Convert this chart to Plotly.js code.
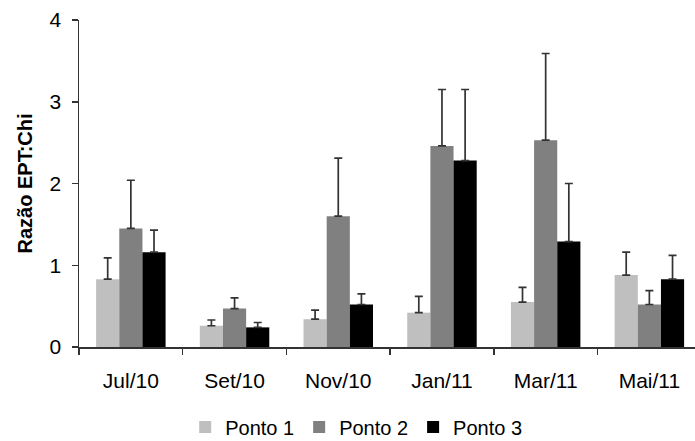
<!DOCTYPE html>
<html>
<head>
<meta charset="utf-8">
<script src="https://cdn.plot.ly/plotly-3.0.1.min.js"></script>
<style>html,body{margin:0;padding:0;background:#fff;}#chart{width:695px;height:441px;}</style>
</head>
<body>
<div id="chart"></div>
<script>
const categories = ["Jul/10", "Set/10", "Nov/10", "Jan/11", "Mar/11", "Mai/11"];
const seriesNames = ["Ponto 1", "Ponto 2", "Ponto 3"];
const ponto1 = [0.83, 0.26, 0.34, 0.42, 0.55, 0.88];
const ponto2 = [1.45, 0.47, 1.60, 2.46, 2.53, 0.52];
const ponto3 = [1.16, 0.24, 0.52, 2.28, 1.29, 0.83];
const ponto1Err = [0.26, 0.07, 0.11, 0.20, 0.18, 0.28];
const ponto2Err = [0.59, 0.13, 0.71, 0.69, 1.06, 0.17];
const ponto3Err = [0.27, 0.06, 0.13, 0.87, 0.71, 0.29];
const yTickVals = [0, 1, 2, 3, 4];

const colors = ["#bfbfbf", "#808080", "#000000"];
const values = [ponto1, ponto2, ponto3];
const errs = [ponto1Err, ponto2Err, ponto3Err];

const traces = values.map((v, i) => ({
  type: "bar",
  name: seriesNames[i],
  x: categories,
  y: v,
  marker: {color: colors[i], line: {width: 0}},
  error_y: {type: "data", array: errs[i], symmetric: false, arrayminus: v.map(() => 0),
            color: "#333333", thickness: 1.7, width: 4}
}));

const font = "Liberation Sans, Arial, sans-serif";
const layout = {
  width: 695, height: 441,
  margin: {l: 79, r: 0, t: 20, b: 94, pad: 0, autoexpand: false},
  paper_bgcolor: "#ffffff", plot_bgcolor: "#ffffff",
  barmode: "group", bargap: 0.33, bargroupgap: 0,
  font: {family: font, size: 21, color: "#000"},
  showlegend: true,
  legend: {orientation: "h", x: 0.45, xanchor: "center", y: -0.245, yanchor: "middle",
           font: {family: font, size: 20, color: "#000"}, itemwidth: 30, traceorder: "normal"},
  xaxis: {type: "category", range: [-0.5, 5.44], showline: true, linecolor: "#333", linewidth: 1.5,
          ticks: "outside", tickson: "boundaries", ticklen: 6, tickcolor: "#333", tickwidth: 1.5,
          showgrid: false, zeroline: false, ticklabelstandoff: 14,
          tickfont: {family: font, size: 21, color: "#000"}},
  yaxis: {range: [0, 4], tickvals: yTickVals, ticktext: yTickVals.map(String),
          showline: true, linecolor: "#333", linewidth: 1.5, ticks: "outside", ticklen: 6,
          tickcolor: "#333", tickwidth: 1.5, showgrid: false, zeroline: false,
          ticklabelstandoff: 6,
          tickfont: {family: font, size: 21, color: "#000"},
          title: {text: "Razão EPT:Chi", font: {family: font, size: 20, color: "#000", weight: "bold"}, standoff: 11}}
};

Plotly.newPlot("chart", traces, layout, {displayModeBar: false, staticPlot: true});
</script>
</body>
</html>
